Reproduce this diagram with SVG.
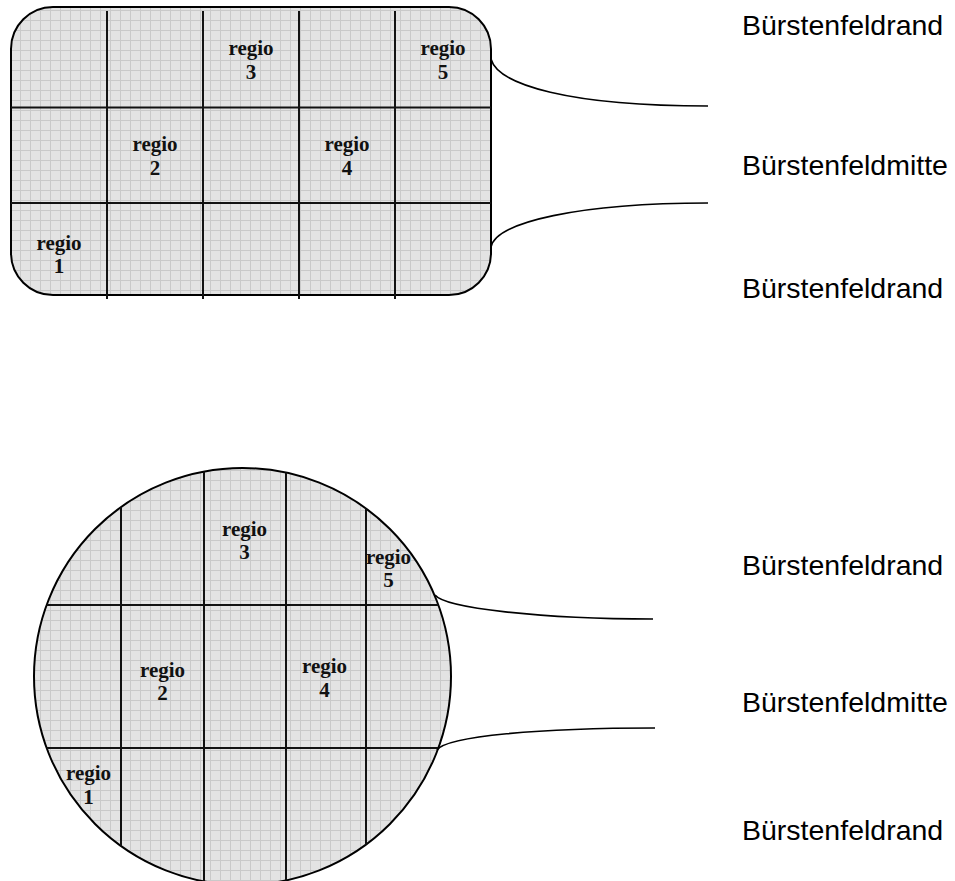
<svg xmlns="http://www.w3.org/2000/svg" width="955" height="881" viewBox="0 0 955 881">
<style>
.out{stroke:#000;stroke-width:2;fill:url(#mesh)}
.grid{stroke:#111;stroke-width:2;fill:none}
.conn{stroke:#000;stroke-width:1.6;fill:none}
.reg{font-family:"Liberation Serif","Times New Roman",serif;font-weight:bold;font-size:21px;fill:#111;text-anchor:middle}
.lbl{font-family:"Liberation Sans",Arial,sans-serif;font-size:28.5px;fill:#000}
</style>
<defs>
<pattern id="mesh" patternUnits="userSpaceOnUse" width="10" height="10">
<rect width="10" height="10" fill="#e3e3e3"/>
<path d="M0,0.5H10M0.5,0V10" stroke="#c9c9c9" stroke-width="1"/>
</pattern>
<clipPath id="cc"><circle cx="242.5" cy="676.5" r="208.5"/></clipPath>
</defs>
<rect width="955" height="881" fill="#fff"/>

<g id="board-rect">
<rect class="out" x="11" y="7" width="480" height="288" rx="42" ry="42"/>
<path class="grid" d="M107,11V299M203,11V299M299,11V299M395,11V299M11,107.5H491M11,203H491"/>
</g>
<g id="rect-regio-1"><text class="reg" x="59" y="250">regio</text><text class="reg" x="59" y="273">1</text></g>
<g id="rect-regio-2"><text class="reg" x="155" y="151">regio</text><text class="reg" x="155" y="175">2</text></g>
<g id="rect-regio-3"><text class="reg" x="251" y="55">regio</text><text class="reg" x="251" y="79">3</text></g>
<g id="rect-regio-4"><text class="reg" x="347" y="151">regio</text><text class="reg" x="347" y="175">4</text></g>
<g id="rect-regio-5"><text class="reg" x="443" y="55">regio</text><text class="reg" x="443" y="79">5</text></g>

<g id="board-circle">
<circle class="out" cx="242.5" cy="676.5" r="208.5"/>
<path class="grid" clip-path="url(#cc)" d="M121,460V890M204,460V890M286,460V890M366,460V890M30,605H460M30,748H460"/>
</g>
<g id="circ-regio-1"><text class="reg" x="88.5" y="780">regio</text><text class="reg" x="88.5" y="804">1</text></g>
<g id="circ-regio-2"><text class="reg" x="162.5" y="677">regio</text><text class="reg" x="162.5" y="700">2</text></g>
<g id="circ-regio-3"><text class="reg" x="244.5" y="536">regio</text><text class="reg" x="244.5" y="559">3</text></g>
<g id="circ-regio-4"><text class="reg" x="324.5" y="673">regio</text><text class="reg" x="324.5" y="697">4</text></g>
<g id="circ-regio-5"><text class="reg" x="388.5" y="564">regio</text><text class="reg" x="388.5" y="587">5</text></g>

<g id="connectors">
<path class="conn" d="M491,59C498,85 570,106 708,106"/>
<path class="conn" d="M491,247C496,222 580,203 708,203"/>
<path class="conn" d="M435,595C445,608 540,619 653,619"/>
<path class="conn" d="M437,750C447,736 540,728 655,728"/>
</g>

<g id="label-top-rand1"><text class="lbl" x="742" y="35">Bürstenfeldrand</text></g>
<g id="label-top-mitte"><text class="lbl" x="742" y="175">Bürstenfeldmitte</text></g>
<g id="label-top-rand2"><text class="lbl" x="742" y="298">Bürstenfeldrand</text></g>
<g id="label-bot-rand1"><text class="lbl" x="742" y="575">Bürstenfeldrand</text></g>
<g id="label-bot-mitte"><text class="lbl" x="742" y="712">Bürstenfeldmitte</text></g>
<g id="label-bot-rand2"><text class="lbl" x="742" y="840">Bürstenfeldrand</text></g>
</svg>
